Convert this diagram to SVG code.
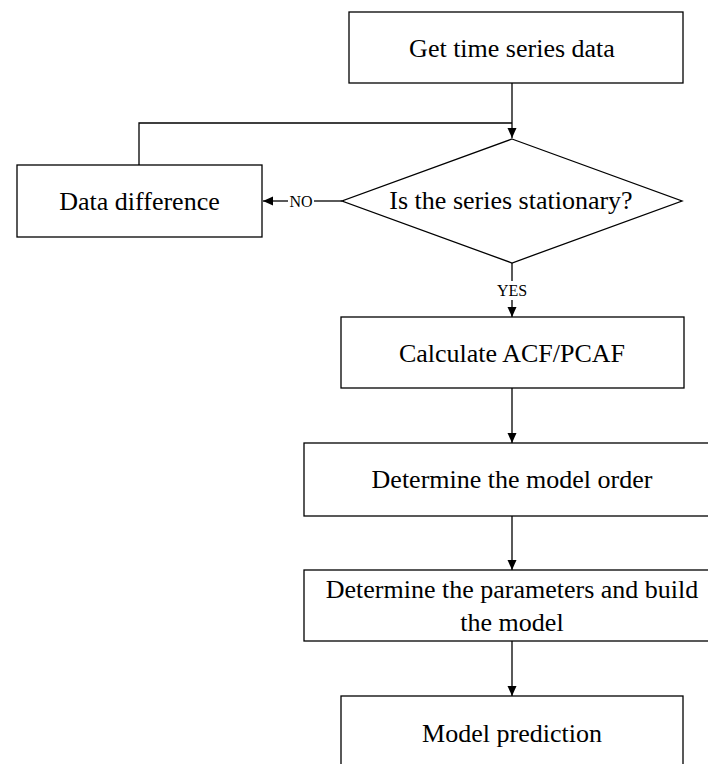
<svg xmlns="http://www.w3.org/2000/svg" width="708" height="764" viewBox="0 0 708 764">
  <style>
    .box { fill: #ffffff; stroke: #000000; stroke-width: 1.3; }
    .edge { fill: none; stroke: #000000; stroke-width: 1.3; }
    .label { font-family: "Liberation Serif", "Times New Roman", serif; font-size: 26px; fill: #000000; text-anchor: middle; }
    .tag { font-family: "Liberation Serif", "Times New Roman", serif; font-size: 16px; fill: #000000; text-anchor: middle; }
  </style>
  <defs>
    <marker id="arrow" viewBox="0 0 10 10" refX="10" refY="5" markerWidth="10" markerHeight="10" markerUnits="userSpaceOnUse" orient="auto">
      <path d="M0,0.5 L10,5 L0,9.5 Z" fill="#000000"/>
    </marker>
  </defs>
  <rect width="708" height="764" fill="#ffffff"/>

  <g id="connectors">
    <!-- start to decision -->
    <path class="edge" d="M512,83 V138" marker-end="url(#arrow)"/>
    <!-- loop back from difference -->
    <path class="edge" d="M139,165 V123 H512"/>
    <!-- NO branch -->
    <path class="edge" d="M342,201 H314"/>
    <path class="edge" d="M288,201 H263" marker-end="url(#arrow)"/>
    <text class="tag" x="301" y="206.5">NO</text>
    <!-- YES branch -->
    <path class="edge" d="M512,263 V281"/>
    <path class="edge" d="M512,300 V317" marker-end="url(#arrow)"/>
    <text class="tag" x="512" y="296">YES</text>
    <!-- main chain -->
    <path class="edge" d="M512,388 V443" marker-end="url(#arrow)"/>
    <path class="edge" d="M512,516 V570" marker-end="url(#arrow)"/>
    <path class="edge" d="M512,641 V696" marker-end="url(#arrow)"/>
  </g>

  <g id="get-data">
    <rect class="box" x="349" y="12" width="334" height="71"/>
    <text class="label" x="512" y="57">Get time series data</text>
  </g>

  <g id="stationary-check">
    <polygon class="box" points="512,139 682,201 512,263 342,201"/>
    <text class="label" x="511" y="209">Is the series stationary?</text>
  </g>

  <g id="data-difference">
    <rect class="box" x="17" y="165" width="245" height="72"/>
    <text class="label" x="139.5" y="210">Data difference</text>
  </g>

  <g id="calc-acf">
    <rect class="box" x="341" y="317" width="343" height="71"/>
    <text class="label" x="512" y="362">Calculate ACF/PCAF</text>
  </g>

  <g id="model-order">
    <rect class="box" x="304" y="443" width="410" height="73"/>
    <text class="label" x="512" y="488">Determine the model order</text>
  </g>

  <g id="build-model">
    <rect class="box" x="304" y="570" width="410" height="71"/>
    <text class="label" x="512" y="598">Determine the parameters and build</text>
    <text class="label" x="512" y="631">the model</text>
  </g>

  <g id="prediction">
    <rect class="box" x="341" y="696" width="342" height="90"/>
    <text class="label" x="512" y="742">Model prediction</text>
  </g>
</svg>
